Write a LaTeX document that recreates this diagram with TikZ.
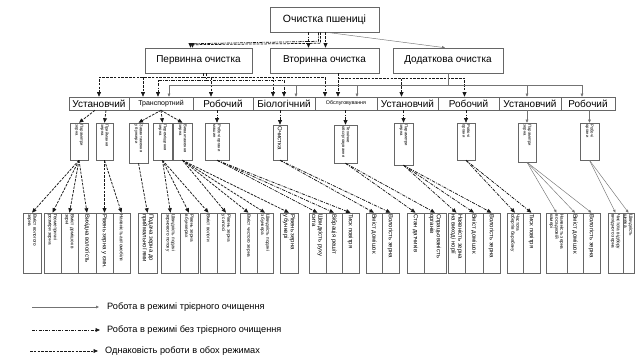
\documentclass[tikz,border=0pt]{standalone}
\usepackage{fontspec}
\setmainfont{Liberation Sans}
\usetikzlibrary{arrows.meta}

\tikzset{
  arr/.style={-{Triangle[length=4.5pt,width=3.8pt]}},
  same/.style={arr,draw=black!90,line width=0.75pt,dash pattern=on 2.6pt off 1.2pt},
  notri/.style={arr,draw=black!90,line width=0.75pt,dash pattern=on 3.2pt off 1.2pt on 0.9pt off 1.2pt},
  tri/.style={-{Triangle[length=3pt,width=2.6pt]},draw=black!55,line width=0.45pt},
  box/.style={draw=black!60,line width=0.55pt,inner sep=0pt,align=center},
  big/.style={font=\fontsize{6}{6.6}\selectfont},
}
\newcommand{\vlab}[2][58pt]{\rotatebox{-90}{\parbox{#1}{\raggedright\hyphenpenalty=10000 #2}}}

\begin{document}
\begin{tikzpicture}[x=1pt,y=-1pt]
  \useasboundingbox (0,0) rectangle (635,361);

  \begin{scope}[every node/.style={box,minimum height=25pt,font=\fontsize{10}{12}\selectfont}]
    \node[minimum width=109pt,font=\fontsize{10.5}{12}\selectfont] (top) at (324.5,19.5) {Очистка пшениці};
    \node[minimum width=107pt] (pv) at (198.5,60.5) {Первинна очистка};
    \node[minimum width=109pt] (vt) at (324.5,60.5) {Вторинна очистка};
    \node[minimum width=110pt] (dd) at (448,60.5) {Додаткова очистка};
  \end{scope}

  \begin{scope}[every node/.style={box,minimum height=13pt,font=\fontsize{10}{11}\selectfont}]
    \node[minimum width=60pt] (ust1) at (99,103.5) {Установчий};
    \node[minimum width=64pt,font=\fontsize{7}{8}\selectfont] (tr) at (161,103.5) {Транспортний};
    \node[minimum width=60pt] (rob1) at (223,103.5) {Робочий};
    \node[minimum width=62pt] (bio) at (284,103.5) {Біологічний};
    \node[minimum width=62pt,font=\fontsize{5.3}{6}\selectfont] (obs) at (346,103.5) {Обслуговування};
    \node[minimum width=61pt] (ust2) at (407.5,103.5) {Установчий};
    \node[minimum width=61pt] (rob2) at (468.5,103.5) {Робочий};
    \node[minimum width=62pt] (ust3) at (530,103.5) {Установчий};
    \node[minimum width=54pt] (rob3) at (588,103.5) {Робочий};
  \end{scope}

  \begin{scope}[every node/.style={box,minimum width=18pt,minimum height=37pt,font=\fontsize{4.2}{4.7}\selectfont}]
    \node (p1) at (79,141.5) {\vlab[34pt]{Параметри\\зерна}};
    \node[minimum width=17pt] (p2) at (104.5,141.5) {\vlab[34pt]{Приймання\\зерна}};
    \node[minimum width=19pt,minimum height=40pt] (p3) at (138.5,143) {\vlab[37pt]{Завантаження\\у бункери}};
    \node[minimum width=19pt] (p4) at (162.5,141.5) {\vlab[34pt]{Переміщення\\зерна}};
    \node[minimum width=19pt] (p5) at (182.5,141.5) {\vlab[34pt]{Вивантаження\\зерна}};
    \node[minimum width=24pt] (p6) at (217,141.5) {\vlab[34pt]{Робочі органи\\машин}};
    \node[minimum width=14pt,minimum height=35pt,big] (p7) at (280,142.5) {\vlab[32pt]{Очистка}};
    \node[minimum width=23pt,minimum height=38pt] (p8) at (345.5,144) {\vlab[35pt]{Технічне\\обслуговування}};
    \node[minimum width=19pt,minimum height=42pt] (p9) at (403.5,144) {\vlab[39pt]{Параметри\\зерна}};
    \node (p10) at (466,141.5) {\vlab[34pt]{Робочі\\органи}};
    \node[minimum height=39pt] (p11) at (527,142.5) {\vlab[36pt]{Параметри\\зерна}};
    \node[minimum width=19pt] (p12) at (589.5,141.5) {\vlab[34pt]{Робочі\\органи}};
  \end{scope}

  \begin{scope}[every node/.style={box,minimum width=17pt,minimum height=60pt,font=\fontsize{4.7}{5.2}\selectfont}]
    \node[minimum width=18pt] (l1) at (32,243) {\vlab{Вміст вологого\\зерна}};
    \node (l2) at (52.5,243) {\vlab{Геометричні\\розміри зерна}};
    \node (l3) at (69.5,243) {\vlab{Вміст домішок в\\зерні}};
    \node[minimum width=18pt,big] (l4) at (87,243) {\vlab{Вихідна вологість}};
    \node[big] (l5) at (104.5,243) {\vlab{Рівень зерна у ємн.}};
    \node (l6) at (121.5,243) {\vlab{Наявність автомобіля}};
    \node[minimum width=19pt,big] (l7) at (147.5,243) {\vlab{Подача зерна до\\приймальної ями}};
    \node[minimum width=19pt] (l8) at (170.5,243) {\vlab{Швидкість подачі\\зернового потоку}};
    \node[minimum width=18pt] (l9) at (189,243) {\vlab{Рівень зерна\\в бункерах}};
    \node (l10) at (208.5,243) {\vlab{Вміст вологи}};
    \node[minimum width=18pt] (l11) at (226,243) {\vlab{Рівень зерна\\у силосі}};
    \node (l12) at (248.5,243) {\vlab{Вміст чистого зерна}};
    \node[minimum width=16pt] (l13) at (265,243) {\vlab{Швидкість подачі\\з бункера}};
    \node[minimum width=18pt,big] (l14) at (289,243) {\vlab{Рівень зерна\\у бункері}};
    \node[big] (l15) at (317.5,243) {\vlab{Швидкість руху\\сита}};
    \node[minimum width=16pt,big] (l16) at (334,243) {\vlab{Вібрація решіт}};
    \node[big] (l17) at (350.5,243) {\vlab{Тиск повітря}};
    \node[minimum width=16pt,big] (l18) at (374,243) {\vlab{Вміст домішок}};
    \node[big] (l19) at (390.5,243) {\vlab{Вологість зерна}};
    \node[big] (l20) at (415.5,243) {\vlab{Стан датчиків}};
    \node[minimum width=22pt,big] (l21) at (435,243) {\vlab{Спрацьованість\\органів}};
    \node[big] (l22) at (456.5,243) {\vlab{Наявність зерна\\на виході норії}};
    \node[minimum width=18pt,big] (l23) at (474,243) {\vlab{Вміст домішок}};
    \node[big] (l24) at (491.5,243) {\vlab{Вологість зерна}};
    \node[minimum width=16pt] (l25) at (515,243) {\vlab{Частота\\обертів барабану}};
    \node[big] (l26) at (531.5,243) {\vlab{Тиск повітря}};
    \node[minimum width=21pt] (l27) at (556.5,243) {\vlab{Наявність зерна\\в осадковій\\камері}};
    \node[minimum width=16pt,big] (l28) at (575,243) {\vlab{Вміст домішок}};
    \node[big] (l29) at (591.5,243) {\vlab{Вологість зерна}};
    \node[minimum width=15pt] (l30) at (615.5,243) {\vlab{Чистота відбору\\вихідного зерна}};
    \node[minimum width=11pt] (l31) at (628.5,243) {\vlab{Швидкість\\шнека}};
  \end{scope}

  % from the top block down to the three cleaning stages
  \draw[notri] ([xshift=-6pt]top.south) -- ++(0,9) -- ([xshift=-6pt,yshift=4pt]pv.north) -- ([xshift=-6pt]pv.north);
  \draw[same] ([xshift=-4pt]top.south) -- ++(0,11) -- ([xshift=-8pt,yshift=3pt]pv.north) -- ([xshift=-8pt]pv.north);
  \draw[notri] ([xshift=-16pt]top.south) -- ([xshift=-16pt]vt.north);
  \draw[same] ([xshift=1pt]top.south) -- ([xshift=1pt]vt.north);
  \draw[tri] ([xshift=2pt]top.south) -- ([xshift=-3pt]dd.north);

  % stages to subsystems
  \draw[same] ([xshift=5pt]pv.south) -- ++(0,4) -| (ust1.north);
  \draw[same] ([xshift=5pt]pv.south) -- ++(0,4) -| ([xshift=-18pt]tr.north);
  \draw[same] ([xshift=5pt]pv.south) -- ++(0,4) -| ([xshift=-12pt]rob1.north);
  \draw[same] ([xshift=5pt]pv.south) -- ++(0,4) -| ([xshift=-11pt]bio.north);
  \draw[same] ([xshift=5pt]pv.south) -- ++(0,4) -| ([xshift=-21pt]obs.north);
  \draw[notri] ([xshift=8pt]pv.south) -- ++(0,7) -| ([xshift=-3pt]tr.north);
  \draw[notri] ([xshift=8pt]pv.south) -- ++(0,7) -| (bio.north);
  \draw[same] ([xshift=14pt]vt.south) -- ++(0,5) -| ([xshift=-8pt]obs.north);
  \draw[same] ([xshift=14pt]vt.south) -- ++(0,5) -| ([xshift=-6pt]ust2.north);
  \draw[same] ([xshift=14pt]vt.south) -- ++(0,5) -| ([xshift=-4pt]rob2.north);
  \draw[tri] (dd.south) -- ++(0,12) -| ([xshift=8pt]tr.north);
  \draw[tri] (dd.south) -- ++(0,12) -| ([xshift=12pt]bio.north);
  \draw[tri] (dd.south) -- ++(0,12) -| ([xshift=11pt]obs.north);
  \draw[tri] (dd.south) -- ++(0,12) -| ([xshift=-3pt]ust3.north);
  \draw[tri] (dd.south) -- ++(0,12) -| ([xshift=-6pt]rob3.north);

  % subsystems to their parameter groups
  \draw[same] ([xshift=-4pt]ust1.south) -- (p1.north);
  \draw[same] ([xshift=7pt]ust1.south) -- (p2.north);
  \draw[same] (tr.south) -- (p3.north);
  \draw[same] (tr.south) -- (p4.north);
  \draw[same] (tr.south) -- (p5.north);
  \draw[notri] (rob1.south -| p6.north) -- (p6.north);
  \draw[notri] (bio.south -| p7.north) -- (p7.north);
  \draw[notri] (obs.south -| p8.north) -- (p8.north);
  \draw[notri] (ust2.south -| p9.north) -- (p9.north);
  \draw[notri] (rob2.south -| p10.north) -- (p10.north);
  \draw[tri] (ust3.south -| p11.north) -- (p11.north);
  \draw[tri] (rob3.south -| p12.north) -- (p12.north);

  % parameter groups to measured values
  \begin{scope}[every edge/.style={draw,same}]
    \path (p1.south) edge (l1.north) edge (l2.north) edge (l3.north) edge (l4.north);
    \path (p2.south) edge (l5.north) edge (l6.north);
    \path (p3.south) edge (l7.north);
    \path (p4.south) edge (l8.north) edge (l9.north) edge (l10.north);
    \path (p5.south) edge (l11.north) edge (l12.north) edge (l13.north) edge (l14.north);
  \end{scope}
  \begin{scope}[every edge/.style={draw,notri}]
    \path (p6.south) edge (l15.north) edge (l16.north) edge (l17.north);
    \path (p7.south) edge (l18.north) edge (l19.north);
    \path (p8.south) edge (l20.north) edge (l21.north);
    \path (p9.south) edge (l22.north) edge (l23.north) edge (l24.north);
    \path (p10.south) edge (l25.north) edge (l26.north);
  \end{scope}
  \begin{scope}[every edge/.style={draw,tri}]
    \path (p11.south) edge (l27.north) edge (l28.north) edge (l29.north);
    \path (p12.south) edge (l30.north) edge (l31.north);
  \end{scope}

  % legend
  \begin{scope}[every node/.style={anchor=west,inner sep=0pt,font=\fontsize{9.2}{11}\selectfont}]
    \coordinate (g1) at (32,307);
    \coordinate (g2) at (32,330);
    \coordinate (g3) at (30,351);
    \node (t1) at (107,307) {Робота в режимі трієрного очищення};
    \node (t2) at (107,330) {Робота в режимі без трієрного очищення};
    \node (t3) at (105,351) {Однаковість роботи в обох режимах};
  \end{scope}
  \draw[tri,shorten >=8pt] (g1) -- (t1.west);
  \draw[notri,shorten >=7pt] (g2) -- (t2.west);
  \draw[same,shorten >=7pt] (g3) -- (t3.west);

\end{tikzpicture}
\end{document}
